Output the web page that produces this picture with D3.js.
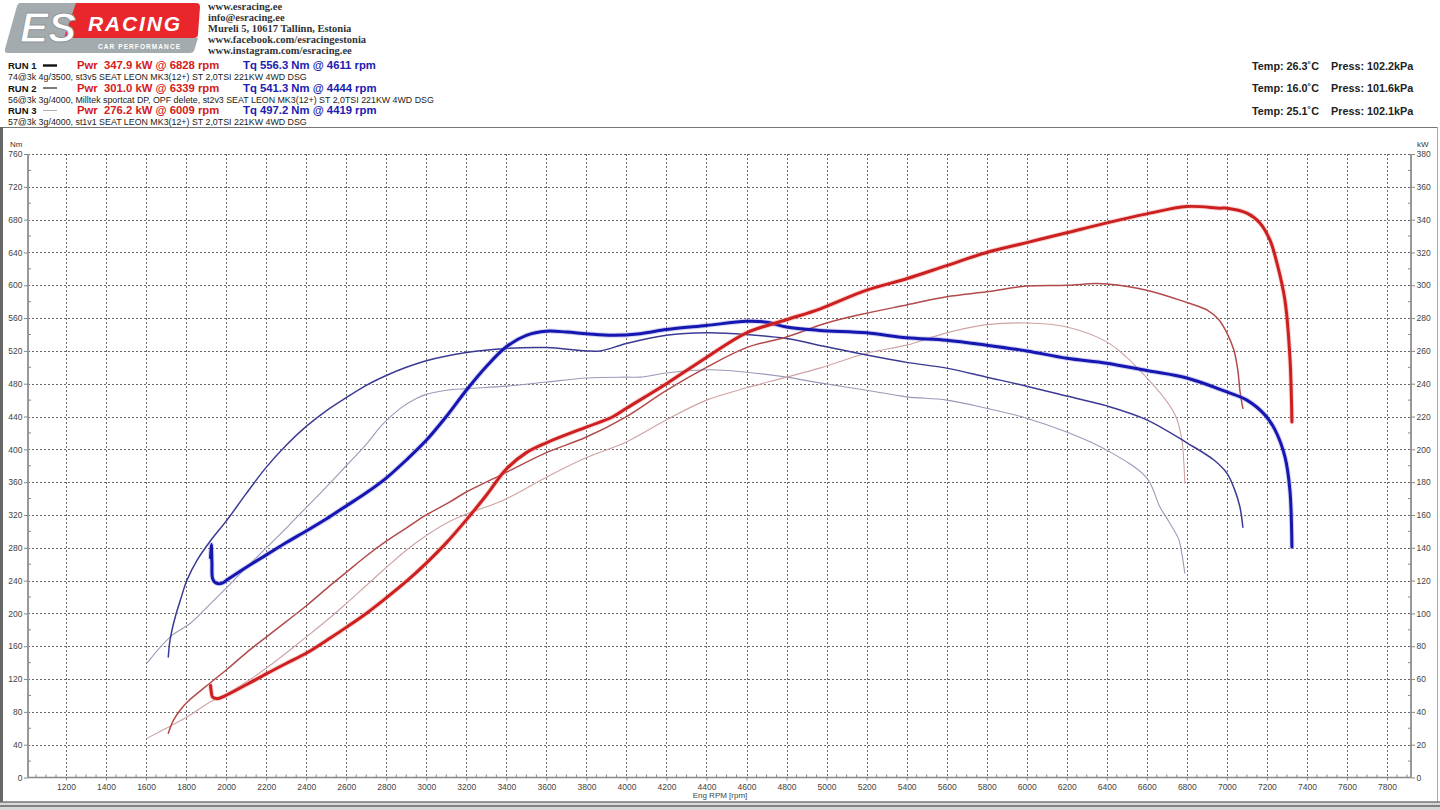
<!DOCTYPE html>
<html><head><meta charset="utf-8">
<script src="https://cdn.jsdelivr.net/npm/d3@7"></script>
<style>
html,body{margin:0;padding:0;background:#fff;}
svg{display:block;}
text{white-space:pre;}
</style></head>
<body>
<svg id="c" width="1440" height="810"></svg>
<script>
// ---------------- DATA ----------------
const contactLines = ["www.esracing.ee","info@esracing.ee","Mureli 5, 10617 Tallinn, Estonia","www.facebook.com/esracingestonia","www.instagram.com/esracing.ee"];
const runNames = ["RUN 1","RUN 2","RUN 3"];
const runPwrLabels = ["Pwr  347.9 kW @ 6828 rpm","Pwr  301.0 kW @ 6339 rpm","Pwr  276.2 kW @ 6009 rpm"];
const runTqLabels = ["Tq 556.3 Nm @ 4611 rpm","Tq 541.3 Nm @ 4444 rpm","Tq 497.2 Nm @ 4419 rpm"];
const runDescs = ["74@3k 4g/3500, st3v5 SEAT LEON MK3(12+) ST 2,0TSI 221KW 4WD DSG",
 "56@3k 3g/4000, Milltek sportcat DP, OPF delete, st2v3 SEAT LEON MK3(12+) ST 2,0TSI 221KW 4WD DSG",
 "57@3k 3g/4000, st1v1 SEAT LEON MK3(12+) ST 2,0TSI 221KW 4WD DSG"];
const runTemps = ["Temp: 26.3˚C","Temp: 16.0˚C","Temp: 25.1˚C"];
const runPress = ["Press: 102.2kPa","Press: 101.6kPa","Press: 102.1kPa"];

const xTicks = [1200,1400,1600,1800,2000,2200,2400,2600,2800,3000,3200,3400,3600,3800,4000,4200,4400,4600,4800,5000,5200,5400,5600,5800,6000,6200,6400,6600,6800,7000,7200,7400,7600,7800];
const nmTicks = [0,40,80,120,160,200,240,280,320,360,400,440,480,520,560,600,640,680,720,760];
const kwTicks = [0,20,40,60,80,100,120,140,160,180,200,220,240,260,280,300,320,340,360,380];

// [rpm, Nm]
const run1Tq = [[1922,268],[1926,284],[1929,262],[1933,242],[1950,237],[1981,237],[2005,241],[2105,257],[2205,272],[2305,287],[2404,301],[2500,315],[2600,331],[2700,347],[2800,365],[2900,387],[3000,411],[3100,440],[3200,472],[3300,501],[3400,525],[3500,539],[3600,544],[3700,543],[3800,541],[3930,539],[4070,541],[4200,546],[4400,551],[4600,556],[4700,555],[4800,549],[4965,545],[5200,542],[5400,536],[5600,533],[5800,527],[6000,520],[6200,511],[6400,505],[6600,496],[6800,487],[7000,470],[7100,460],[7190,442],[7240,424],[7290,391],[7315,350],[7325,281]];
// [rpm, kW]
const run1Pwr = [[1922,56],[1926,52],[1932,49],[1955,48],[1990,49.5],[2100,56.5],[2205,63.5],[2300,69.5],[2404,76],[2520,85],[2600,91.5],[2700,100],[2800,109.5],[2900,119.5],[3000,130.7],[3100,143],[3200,157],[3300,172],[3400,188],[3500,198],[3600,204],[3800,213.6],[3930,219.7],[4000,225],[4200,240],[4400,256],[4600,271],[4800,279],[4965,285.5],[5200,297],[5400,304],[5600,312],[5800,320],[6000,326],[6200,332],[6400,338],[6600,343.5],[6800,348],[6965,347],[7000,347],[7100,344],[7165,338],[7215,327.6],[7250,313.6],[7290,291],[7315,256],[7325,216.7]];
const run2Tq = [[1711,147],[1720,168],[1745,195],[1771,216],[1805,241],[1855,265],[1920,288],[2005,314],[2100,346],[2200,378],[2300,405],[2400,428],[2500,447],[2600,463],[2700,478],[2800,490],[2900,500],[3000,508],[3200,518],[3400,523],[3600,524],[3800,520],[3870,520],[4000,529],[4200,539],[4400,542],[4600,540],[4800,535],[5000,525],[5200,515],[5400,506],[5600,499],[5800,488],[6000,477],[6200,465],[6400,453],[6600,436],[6800,408],[6935,387],[7000,371],[7040,350],[7065,330],[7080,305]];
const run2Pwr = [[1711,27],[1737,35],[1770,41],[1806,46],[1920,57.6],[2005,66],[2100,76],[2205,86],[2300,95],[2404,105],[2500,115],[2600,125],[2700,135],[2800,144],[2900,152],[3000,160],[3118,168],[3200,174],[3400,186],[3600,198],[3800,207.5],[4000,220],[4200,236],[4400,250],[4600,262],[4800,268.5],[5000,277],[5200,283],[5400,288],[5600,293],[5800,296],[6000,299.5],[6200,300],[6339,301],[6400,300.8],[6600,297],[6800,289.5],[6900,285],[6960,279],[7000,271],[7035,260.5],[7055,248],[7065,236],[7080,225]];
const run3Tq = [[1606,140],[1721,171.5],[1821,188],[1906,208],[2005,232],[2105,257],[2205,281],[2304,305],[2400,329],[2500,354],[2600,380],[2700,406],[2780,430],[2870,450],[2950,462],[3000,467],[3100,472],[3200,474],[3400,477],[3600,482],[3800,487],[4000,488],[4070,488],[4200,493],[4419,497],[4600,494],[4800,488],[4965,481],[5200,472],[5400,464],[5600,460],[5800,450],[6000,438],[6200,421],[6400,399],[6600,365],[6665,330],[6715,310],[6760,290],[6775,273],[6790,249]];
const run3Pwr = [[1606,24],[1700,30],[1806,37],[1920,46],[2005,51],[2205,67],[2404,86],[2520,97.5],[2600,106],[2700,117],[2800,128],[2900,138.5],[3000,147.5],[3100,155],[3200,160.5],[3385,169],[3600,183],[3800,195],[4000,204.5],[4200,218],[4400,230],[4600,237.5],[4800,244],[4965,249.5],[5200,258.6],[5400,263.5],[5600,271],[5800,276],[6000,277],[6200,274.6],[6400,265.5],[6500,256],[6550,250],[6612,242],[6695,230],[6745,220],[6775,206],[6785,192],[6790,179.5]];

// ---------------- DRAW ----------------
const svg = d3.select("#c");
const x = d3.scaleLinear().domain([1010, 7920]).range([28, 1411]);
const yNm = d3.scaleLinear().domain([0, 760]).range([777.5, 154]);
const yKw = d3.scaleLinear().domain([0, 380]).range([777.5, 154]);

// Logo
const logo = svg.append("g");
logo.append("path").attr("d","M20,3 L78,3 L66,38 L198,38 L194,51 Q193,53 190,53 L8,53 Q4,53 5,49 L17,6 Q18,3 20,3 Z").attr("fill","#a3abae");
logo.append("path").attr("d","M76,3 L196,3 Q200,3 200,7 L198,34 Q198,38 194,38 L64,38 Z").attr("fill","#e8262c");
logo.append("text").attr("x",20).attr("y",42).attr("font-family","Liberation Sans").attr("font-weight","bold").attr("font-style","italic").attr("font-size",42).attr("fill","#fff").attr("stroke","#8f979a").attr("stroke-width",1).attr("textLength",56).text("ES");
logo.append("text").attr("x",88).attr("y",31).attr("font-family","Liberation Sans").attr("font-weight","bold").attr("font-style","italic").attr("font-size",21).attr("fill","#fff").attr("textLength",92).text("RACING");
logo.append("text").attr("x",98).attr("y",48.5).attr("font-family","Liberation Sans").attr("font-weight","bold").attr("font-size",6.5).attr("fill","#fff").attr("textLength",82).text("CAR PERFORMANCE");

// Contact lines
svg.append("g").selectAll("text").data(contactLines).join("text")
  .attr("x",208).attr("y",(d,i)=>9.5+i*11).attr("font-family","Liberation Serif").attr("font-weight","bold")
  .attr("font-size",10.5).attr("fill","#333").text(d=>d);

// Run header
const runStroke = [2.4,1.3,0.8];
const runSampleColor = ["#111","#333","#999"];
const hdr = svg.append("g").attr("font-family","Liberation Sans");
runNames.forEach((n,i)=>{
  const yb = 69 + i*22.5;
  hdr.append("text").attr("x",8).attr("y",yb).attr("font-weight","bold").attr("font-size",9.5).attr("fill","#111").text(n);
  hdr.append("line").attr("x1",43).attr("x2",57).attr("y1",yb-3.5).attr("y2",yb-3.5).attr("stroke",runSampleColor[i]).attr("stroke-width",runStroke[i]);
  hdr.append("text").attr("x",77).attr("y",yb).attr("font-weight","bold").attr("font-size",11.3).attr("fill","#d42020").text(runPwrLabels[i]);
  hdr.append("text").attr("x",243).attr("y",yb).attr("font-weight","bold").attr("font-size",11.3).attr("fill","#2020b0").text(runTqLabels[i]);
  hdr.append("text").attr("x",8).attr("y",yb+11).attr("font-size",8.85).attr("fill","#222").text(runDescs[i]);
  hdr.append("text").attr("x",1252).attr("y",yb+0.5).attr("font-weight","bold").attr("font-size",10.8).attr("fill","#222").text(runTemps[i]);
  hdr.append("text").attr("x",1331).attr("y",yb+0.5).attr("font-weight","bold").attr("font-size",10.8).attr("fill","#222").text(runPress[i]);
});

// Frame
svg.append("line").attr("x1",2).attr("x2",1438).attr("y1",127.5).attr("y2",127.5).attr("stroke","#777").attr("stroke-width",1);
svg.append("line").attr("x1",1.5).attr("x2",1.5).attr("y1",127).attr("y2",803).attr("stroke","#666").attr("stroke-width",3);
svg.append("line").attr("x1",1437.5).attr("x2",1437.5).attr("y1",127).attr("y2",803).attr("stroke","#aaa").attr("stroke-width",1);
svg.append("rect").attr("x",0).attr("y",802).attr("width",1440).attr("height",8).attr("fill","#d8d8d8");
svg.append("line").attr("x1",0).attr("x2",1440).attr("y1",802).attr("y2",802).attr("stroke","#777").attr("stroke-width",1.5);
svg.append("line").attr("x1",0).attr("x2",1440).attr("y1",806).attr("y2",806).attr("stroke","#666").attr("stroke-width",1.5);

// Grid
const grid = svg.append("g").attr("stroke","#6a6a6a").attr("stroke-width",1).attr("stroke-dasharray","2,2");
grid.selectAll(".gv").data(xTicks).join("line").attr("x1",d=>Math.round(x(d))+0.5).attr("x2",d=>Math.round(x(d))+0.5).attr("y1",yNm(760)).attr("y2",yNm(0));
grid.selectAll(".gh").data(nmTicks.filter(d=>d>0)).join("line").attr("x1",x.range()[0]).attr("x2",x.range()[1]).attr("y1",d=>Math.round(yNm(d))+0.5).attr("y2",d=>Math.round(yNm(d))+0.5);

// Axes
const axG = svg.append("g");
axG.append("line").attr("x1",28).attr("x2",28).attr("y1",yNm(760)).attr("y2",yNm(0)).attr("stroke","#999").attr("stroke-width",2);
axG.append("line").attr("x1",1411).attr("x2",1411).attr("y1",yNm(760)).attr("y2",yNm(0)).attr("stroke","#999").attr("stroke-width",2);
axG.append("line").attr("x1",28).attr("x2",1411).attr("y1",yNm(0)).attr("y2",yNm(0)).attr("stroke","#888").attr("stroke-width",1.5);

const fmt = d3.format("d");
const leftAxis = d3.axisLeft(yNm).tickValues(nmTicks).tickFormat(fmt).tickSize(4).tickPadding(1.5);
const gl = svg.append("g").attr("transform","translate(28,0)").call(leftAxis);
const rightAxis = d3.axisRight(yKw).tickValues(kwTicks).tickFormat(fmt).tickSize(4).tickPadding(1.5);
const gr = svg.append("g").attr("transform","translate(1411,0)").call(rightAxis);
const bottomAxis = d3.axisBottom(x).tickValues(xTicks).tickFormat(fmt).tickSize(3).tickPadding(3);
const gb = svg.append("g").attr("transform",`translate(0,${yNm(0)})`).call(bottomAxis);
[gl,gr,gb].forEach(g=>{
  g.select(".domain").remove();
  g.selectAll(".tick line").attr("stroke","#888");
  g.selectAll(".tick text").attr("font-family","Liberation Sans").attr("font-size",8.5).attr("fill","#444");
});
// minor ticks
const minorY = d3.range(20,760,40);
axG.selectAll(".my").data(minorY).join("line").attr("x1",28).attr("x2",31).attr("y1",d=>yNm(d)).attr("y2",d=>yNm(d)).attr("stroke","#888");
axG.selectAll(".myr").data(minorY).join("line").attr("x1",1408).attr("x2",1411).attr("y1",d=>yNm(d)).attr("y2",d=>yNm(d)).attr("stroke","#888");
const minorX = d3.range(1050,7920,50).filter(v=>v%200!==0);
axG.selectAll(".mx").data(minorX).join("line").attr("x1",d=>x(d)).attr("x2",d=>x(d)).attr("y1",yNm(0)).attr("y2",yNm(0)-3).attr("stroke","#888");

svg.append("text").attr("x",10).attr("y",147).attr("font-family","Liberation Sans").attr("font-size",8).attr("fill","#333").text("Nm");
svg.append("text").attr("x",1417).attr("y",147).attr("font-family","Liberation Sans").attr("font-size",8).attr("fill","#333").text("kW");
svg.append("text").attr("x",720).attr("y",798).attr("text-anchor","middle").attr("font-family","Liberation Sans").attr("font-size",8).attr("fill","#444").text("Eng RPM [rpm]");

// Curves
const lineNm = d3.line().x(d=>x(d[0])).y(d=>yNm(d[1])).curve(d3.curveCatmullRom.alpha(0.5));
const lineKw = d3.line().x(d=>x(d[0])).y(d=>yKw(d[1])).curve(d3.curveCatmullRom.alpha(0.5));
const curves = [
  {d:run3Tq, f:lineNm, c:"#9a9ab8", w:1.1},
  {d:run3Pwr, f:lineKw, c:"#cfa3a3", w:1.1},
  {d:run2Tq, f:lineNm, c:"#3b3b95", w:1.5},
  {d:run2Pwr, f:lineKw, c:"#b34a4a", w:1.5},
  {d:run1Tq, f:lineNm, c:"#1616b0", w:3, halo:"#8080e0"},
  {d:run1Pwr, f:lineKw, c:"#cc2020", w:3, halo:"#f08080"}
];
const cg = svg.append("g").attr("fill","none").attr("stroke-linejoin","round").attr("stroke-linecap","round");
curves.forEach(s=>{
  if(s.halo) cg.append("path").attr("d",s.f(s.d)).attr("stroke",s.halo).attr("stroke-opacity",0.35).attr("stroke-width",s.w+2);
  cg.append("path").attr("d",s.f(s.d)).attr("stroke",s.c).attr("stroke-width",s.w);
});
</script>
</body></html>
